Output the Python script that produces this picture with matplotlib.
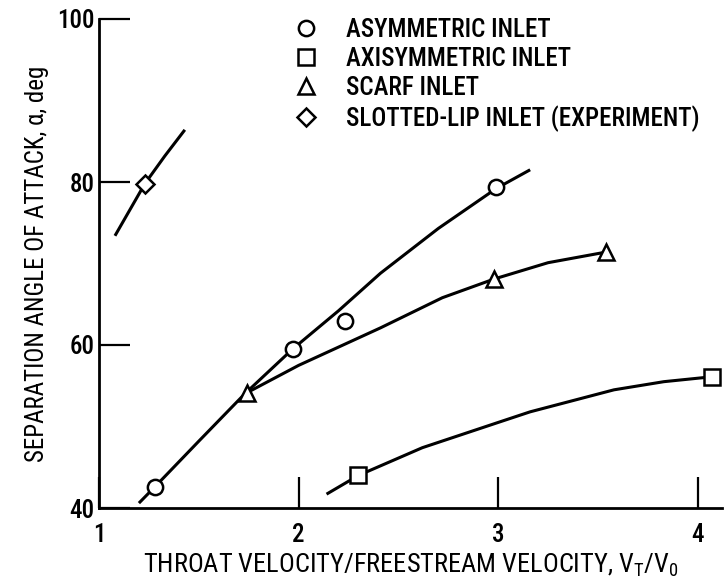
import matplotlib
matplotlib.use("Agg")
import matplotlib.pyplot as plt
from matplotlib.lines import Line2D

plt.rcParams['font.family'] = ['Roboto Condensed', 'Liberation Sans Narrow', 'DejaVu Sans']
plt.rcParams['font.stretch'] = 'condensed'
plt.rcParams['font.weight'] = 'medium'

# ------------------------------------------------
# Data
# ------------------------------------------------
# test points
asym_x = [1.28, 1.97, 2.23, 2.99]
asym_y = [42.6, 59.5, 62.9, 79.4]
axisym_x = [2.30, 4.07]
axisym_y = [44.0, 56.1]
scarf_x = [1.74, 2.98, 3.54]
scarf_y = [54.1, 68.1, 71.4]
slot_x = [1.23]
slot_y = [79.8]

# faired curves
asym_curve_x = [1.20, 1.28, 1.50, 1.73, 1.97, 2.20, 2.41, 2.70, 2.99, 3.16]
asym_curve_y = [40.6, 42.6, 48.2, 54.0, 59.5, 64.2, 68.8, 74.3, 79.2, 81.5]
scarf_curve_x = [1.73, 2.00, 2.41, 2.72, 2.98, 3.25, 3.54]
scarf_curve_y = [54.0, 57.5, 62.1, 65.8, 68.1, 70.1, 71.4]
axisym_curve_x = [2.14, 2.30, 2.62, 3.00, 3.16, 3.58, 3.83, 4.07]
axisym_curve_y = [41.7, 44.0, 47.4, 50.5, 51.8, 54.5, 55.5, 56.1]
slot_curve_x = [1.08, 1.23, 1.33, 1.43]
slot_curve_y = [73.4, 79.8, 83.2, 86.4]

x_ticks = [1, 2, 3, 4]
y_ticks = [40, 60, 80, 100]

labels = ["ASYMMETRIC INLET", "AXISYMMETRIC INLET", "SCARF INLET",
          "SLOTTED-LIP INLET (EXPERIMENT)"]

FS = 18
LW = 2.2
MS = 11

# ------------------------------------------------
# Plot
# ------------------------------------------------
fig = plt.figure(figsize=(7.26, 5.86), dpi=100)
ax = fig.add_axes([99 / 726, 1 - 508 / 586, 3.12 * 199.6 / 726, 489 / 586])

for cx, cy in [(asym_curve_x, asym_curve_y), (scarf_curve_x, scarf_curve_y),
               (axisym_curve_x, axisym_curve_y), (slot_curve_x, slot_curve_y)]:
    ax.plot(cx, cy, color='black', lw=LW, solid_capstyle='butt', zorder=2)

mk = dict(ls='none', mfc='white', mec='black', mew=1.8, ms=MS, zorder=3)
ax.plot(asym_x, asym_y, marker='o', **mk)
ax.plot(axisym_x, axisym_y, marker='s', **mk)
ax.plot(scarf_x, scarf_y, marker='^', **mk)
ax.plot(slot_x, slot_y, marker='D', **dict(mk, ms=MS - 2))

ax.set_xlim(1, 4.12)
ax.set_ylim(40, 100)
ax.set_xticks(x_ticks)
ax.set_yticks(y_ticks)
ax.tick_params(axis='both', direction='in', width=1.6, labelsize=FS)
ax.tick_params(axis='x', length=22, pad=11)
ax.tick_params(axis='y', length=22, pad=3)
for s in ['top', 'right']:
    ax.spines[s].set_visible(False)
for s in ['left', 'bottom']:
    ax.spines[s].set_linewidth(2.0)

ax.set_xlabel(r"THROAT VELOCITY/FREESTREAM VELOCITY, V$_\mathregular{T}$/V$_\mathregular{0}$",
              fontsize=19, labelpad=3)
ax.set_ylabel("SEPARATION ANGLE OF ATTACK, \u03b1, deg", fontsize=FS, labelpad=6)

handles = [
    Line2D([], [], marker='o', **mk),
    Line2D([], [], marker='s', **mk),
    Line2D([], [], marker='^', **mk),
    Line2D([], [], marker='D', **dict(mk, ms=MS - 2)),
]
fig.legend(handles, labels, loc='upper left', bbox_to_anchor=(293 / 726, 1 - 18 / 586),
           frameon=False, fontsize=FS, handlelength=1.0, handletextpad=1.1,
           labelspacing=0.2, borderpad=0, borderaxespad=0, numpoints=1)

fig.savefig("out.png", dpi=100)
